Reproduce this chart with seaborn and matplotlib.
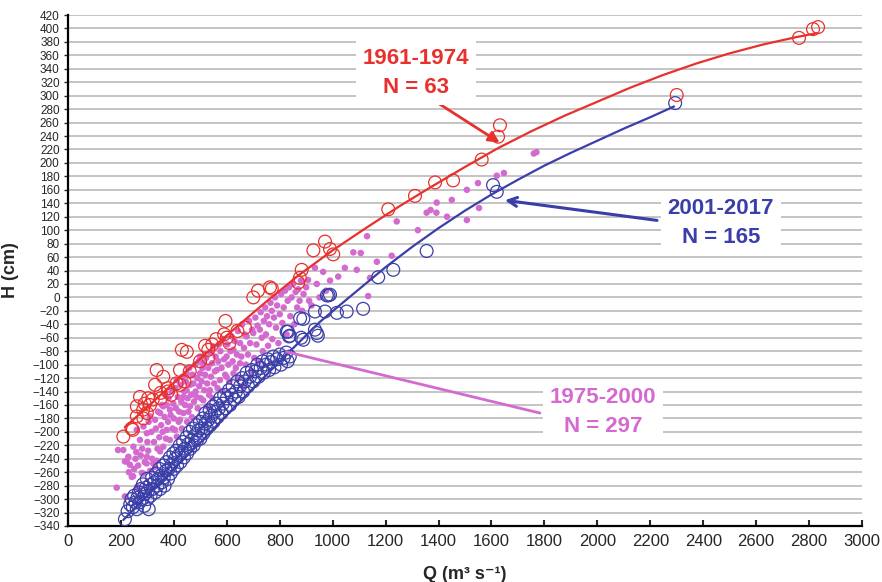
import numpy as np
import matplotlib
matplotlib.use('Agg')
import matplotlib.pyplot as plt
import seaborn as sns

# 1961-1974 (red open circles)
q_red = [209, 240, 245, 260, 260, 272, 284, 285, 290, 298, 303, 310, 320, 329, 335,
         350, 350, 360, 378, 378, 390, 410, 423, 423, 430, 440, 449, 460, 499, 518,
         530, 530, 545, 560, 590, 595, 600, 610, 640, 669, 700, 718, 763, 770, 870,
         876, 883, 927, 971, 990, 1002, 1210, 1311, 1387, 1455, 1563, 1625, 1632,
         2300, 2762, 2815, 2834]
h_red = [-207, -195, -197, -162, -177, -148, -167, -180, -158, -172, -150, -160, -152,
         -130, -108, -142, -150, -118, -135, -140, -145, -128, -108, -130, -78, -125,
         -81, -110, -95, -72, -78, -90, -70, -62, -55, -35, -60, -68, -50, -45, 0, 10,
         15, 13, 22, 29, 41, 70, 83, 72, 64, 131, 151, 171, 174, 205, 239, 256, 301,
         386, 399, 402]

# 2001-2017 (blue open circles)
q_blue = [215, 225, 235, 240, 245, 250, 255, 260, 262, 268, 270, 275, 280, 283, 288,
          290, 295, 298, 300, 302, 305, 310, 312, 318, 320, 325, 330, 332, 338, 340,
          345, 348, 352, 355, 360, 362, 365, 370, 372, 378, 380, 385, 388, 392, 398,
          400, 405, 410, 412, 418, 422, 425, 430, 435, 438, 442, 448, 450, 455, 460,
          462, 468, 472, 475, 480, 485, 488, 492, 498, 500, 505, 510, 512, 518, 520,
          525, 530, 535, 538, 542, 548, 550, 555, 560, 565, 570, 575, 580, 585, 590,
          595, 600, 608, 612, 618, 622, 628, 635, 640, 645, 650, 658, 662, 668, 675,
          680, 688, 695, 700, 708, 715, 720, 728, 735, 740, 748, 755, 760, 768, 775,
          780, 790, 800, 805, 815, 825, 830, 826, 831, 835, 838, 838, 877, 881, 889,
          889, 933, 933, 940, 944, 971, 978, 984, 990, 1016, 1053, 1115, 1172, 1229,
          1355, 1606, 1620, 2294]
h_blue = [-330, -318, -308, -300, -312, -295, -305, -315, -298, -290, -305, -285, -300,
          -278, -310, -292, -283, -270, -300, -288, -315, -279, -295, -268, -285, -275,
          -290, -262, -280, -270, -255, -285, -265, -275, -250, -268, -280, -258, -245,
          -270, -255, -238, -262, -248, -232, -255, -240, -228, -250, -235, -220, -245,
          -230, -215, -238, -225, -208, -232, -218, -200, -225, -212, -195, -220, -205,
          -190, -212, -198, -185, -210, -195, -180, -202, -188, -172, -195, -182, -168,
          -190, -176, -162, -185, -170, -158, -178, -165, -150, -172, -158, -145, -165,
          -150, -138, -160, -145, -132, -152, -140, -125, -148, -132, -120, -140, -125,
          -112, -132, -118, -108, -125, -110, -100, -118, -105, -95, -112, -100, -92,
          -108, -96, -88, -104, -92, -85, -100, -90, -82, -95, -51, -51, -58, -57, -88,
          -31, -60, -32, -63, -21, -48, -53, -57, -21, 3, 3, 4, -23, -21, -17, 30, 41,
          69, 167, 157, 289]

# 1975-2000 (magenta dots)
q_mag = [184, 189, 209, 215, 215, 222, 228, 234, 230, 241, 246, 247, 250, 255, 260,
         258, 262, 265, 272, 275, 279, 280, 285, 285, 290, 297, 298, 298, 300, 303,
         305, 310, 310, 315, 318, 322, 325, 329, 329, 332, 335, 338, 340, 345, 348,
         348, 352, 355, 358, 360, 360, 365, 368, 370, 373, 373, 378, 380, 385, 385,
         388, 392, 395, 398, 400, 404, 405, 408, 411, 411, 415, 418, 420, 423, 425,
         428, 430, 432, 436, 436, 440, 442, 445, 448, 448, 450, 452, 455, 458, 461,
         462, 465, 468, 470, 474, 476, 480, 482, 486, 488, 490, 494, 496, 499, 499,
         502, 505, 508, 511, 511, 515, 518, 522, 524, 526, 530, 533, 536, 538, 540,
         544, 546, 549, 552, 555, 558, 562, 565, 568, 570, 574, 576, 580, 584, 586,
         590, 594, 599, 599, 602, 606, 610, 614, 618, 622, 625, 625, 630, 634, 638,
         642, 646, 650, 650, 655, 658, 662, 665, 668, 672, 675, 680, 684, 688, 692,
         696, 700, 704, 708, 712, 716, 720, 725, 728, 732, 736, 740, 745, 748, 752,
         756, 760, 765, 770, 772, 778, 782, 786, 790, 795, 800, 805, 810, 815, 820,
         826, 830, 835, 840, 845, 850, 855, 860, 866, 870, 875, 880, 885, 890, 900,
         907, 911, 920, 933, 940, 950, 964, 975, 990, 1021, 1046, 1078, 1091, 1106,
         1130, 1134, 1141, 1167, 1223, 1242, 1322, 1355, 1370, 1392, 1393, 1432, 1450,
         1507, 1507, 1549, 1553, 1620, 1647, 1760, 1770]
h_mag = [-283, -227, -227, -244, -296, -244, -237, -249, -260, -267, -266, -222, -255,
         -240, -197, -230, -282, -250, -212, -235, -261, -225, -192, -262, -245, -247,
         -237, -202, -215, -228, -185, -177, -258, -200, -240, -247, -215, -182, -252,
         -195, -243, -225, -170, -208, -172, -229, -190, -160, -200, -162, -222, -178,
         -145, -210, -160, -197, -185, -150, -167, -212, -175, -140, -195, -158, -180,
         -197, -135, -165, -123, -207, -148, -185, -170, -182, -130, -155, -195, -118,
         -148, -172, -140, -160, -125, -113, -138, -185, -150, -170, -105, -162, -130,
         -145, -178, -115, -128, -155, -100, -140, -148, -120, -165, -95, -132, -88,
         -113, -150, -125, -105, -98, -153, -138, -115, -90, -162, -128, -105, -145,
         -138, -82, -118, -98, -150, -73, -128, -110, -88, -108, -135, -95, -70, -123,
         -80, -105, -140, -62, -92, -115, -88, -118, -70, -100, -125, -80, -58, -95,
         -78, -113, -65, -105, -85, -50, -120, -68, -98, -88, -40, -133, -75, -55, -100,
         -58, -85, -35, -68, -110, -48, -53, -90, -30, -70, -42, -95, -48, -22, -60,
         -80, -35, -15, -55, -28, -72, -40, -8, -20, -62, -30, 0, -45, -12, -68, -25,
         5, -38, -15, 10, -55, -5, 15, -28, 0, 20, -40, 8, -15, 12, -5, 25, -20, 5, 15,
         26, -5, -12, 44, 20, 0, 38, 10, 25, 31, 44, 67, 41, 66, 91, 2, 29, 53, 62, 113,
         100, 126, 130, 126, 141, 120, 145, 115, 160, 170, 133, 181, 185, 214, 216]

# fitted rating curves
q_red_fit = [215, 300, 400, 500, 625, 750, 875, 1000, 1125, 1250, 1375, 1500, 1625,
             1750, 1875, 2000, 2125, 2250, 2375, 2500, 2625, 2750, 2830]
h_red_fit = [-193, -163, -127, -91, -48, -6, 34, 70, 103, 135, 165, 194, 222, 247,
             270, 291, 312, 331, 348, 363, 376, 387, 393]
q_blue_fit = [209, 300, 400, 500, 600, 700, 826, 950, 1053, 1200, 1300, 1400, 1500,
              1600, 1700, 1800, 1900, 2000, 2100, 2200, 2290]
h_blue_fit = [-331, -295, -255, -216, -175, -135, -85, -37, -3, 45, 75, 103, 129,
              153, 175, 196, 215, 233, 251, 268, 284]

red = '#e8302c'
blue = '#3a3ea8'
mag = '#d46ad0'

sns.set_style('white')
plt.rcParams['font.family'] = ['Liberation Sans', 'DejaVu Sans']

fig = plt.figure(figsize=(8.82, 5.82), dpi=100)
ax = fig.add_axes([68 / 882, 1 - 526 / 582, 794 / 882, 511 / 582])

sns.scatterplot(x=q_mag, y=h_mag, color=mag, s=22, edgecolor='none', ax=ax, zorder=3)
sns.scatterplot(x=q_blue, y=h_blue, s=85, facecolors='none', edgecolor=blue,
                linewidth=0.9, ax=ax, zorder=4)
sns.scatterplot(x=q_red, y=h_red, s=85, facecolors='none', edgecolor=red,
                linewidth=0.9, ax=ax, zorder=4)
sns.lineplot(x=q_red_fit, y=h_red_fit, color=red, lw=1.6, ax=ax, zorder=5)
sns.lineplot(x=q_blue_fit, y=h_blue_fit, color=blue, lw=1.6, ax=ax, zorder=5)

# annotations
ax.annotate('', xy=(1640, 228), xytext=(1394, 290),
            arrowprops=dict(arrowstyle='-|>', color=red, lw=2, mutation_scale=16),
            zorder=6)
ax.annotate('', xy=(1640, 145), xytext=(2236, 114),
            arrowprops=dict(arrowstyle='->', color=blue, lw=2.2, mutation_scale=16),
            zorder=6)
ax.plot([826, 1783], [-81, -172], color=mag, lw=2, zorder=6)

box = dict(facecolor='white', edgecolor='none', pad=5)
ax.text(1315, 334, '1961-1974\nN = 63', color=red, fontsize=16, fontweight='bold',
        ha='center', va='center', linespacing=1.5, bbox=box, zorder=7)
ax.text(2467, 110, '2001-2017\nN = 165', color=blue, fontsize=16, fontweight='bold',
        ha='center', va='center', linespacing=1.5, bbox=box, zorder=7)
ax.text(2021, -170, '1975-2000\nN = 297', color=mag, fontsize=16, fontweight='bold',
        ha='center', va='center', linespacing=1.5, bbox=box, zorder=7)

ax.set_xlim(0, 3000)
ax.set_ylim(-340, 420)
ax.set_xticks(np.arange(0, 3001, 200))
ax.set_yticks(np.arange(-340, 421, 20))
ax.yaxis.grid(True, color='#c4c4c4', lw=1.4)
ax.xaxis.grid(False)
ax.set_axisbelow(True)

for s in ['top', 'right']:
    ax.spines[s].set_visible(False)
for s in ['left', 'bottom']:
    ax.spines[s].set_color('black')
    ax.spines[s].set_linewidth(1.6)

ax.tick_params(axis='x', direction='in', length=4, width=1.5, labelsize=12, pad=6,
               bottom=True)
ax.tick_params(axis='y', direction='out', length=3, width=1, labelsize=8.5, pad=3,
               left=True)

ax.set_xlabel('Q (m³ s⁻¹)', fontsize=13, fontweight='bold', labelpad=12)
ax.set_ylabel('H (cm)', fontsize=13, fontweight='bold', labelpad=10)

fig.savefig('out.png', dpi=100)
